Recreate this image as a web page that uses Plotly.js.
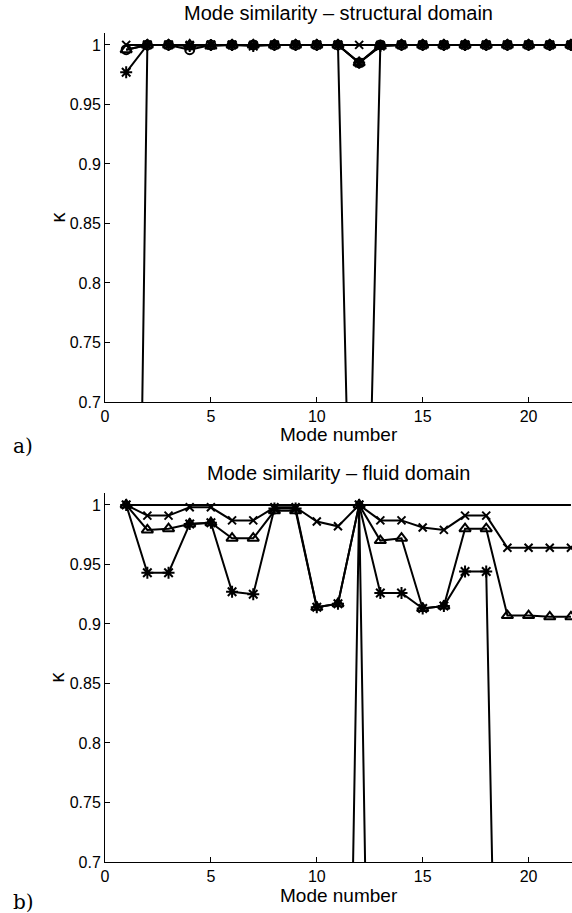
<!DOCTYPE html>
<html>
<head>
<meta charset="utf-8">
<script src="https://cdn.plot.ly/plotly-3.0.1.min.js"></script>
<style>html,body{margin:0;padding:0;background:#fff;} #chart{width:572px;height:913px;}</style>
</head>
<body>
<div id="chart"></div>
<script>
// ---- data ----
var modeNumbers = [1,2,3,4,5,6,7,8,9,10,11,12,13,14,15,16,17,18,19,20,21,22];
var xTickVals = [0,5,10,15,20];
var yTickVals = [0.7,0.75,0.8,0.85,0.9,0.95,1];
var yTickText = ['0.7','0.75','0.8','0.85','0.9','0.95','1'];

// structural domain
var structDip    = [-0.25,1,1,1,1,1,1,1,1,1,1,0.25,1,1,1,1,1,1,1,1,1,1];
var structCross  = [1,1,1,1,1,1,1,1,1,1,1,1,1,1,1,1,1,1,1,1,1,1];
var structCircle = [0.996,1,1,0.996,1,1,1,1,1,1,1,0.985,1,1,1,1,1,1,1,1,1,1];
var structTri    = [0.996,1,1,1,0.999,1,1,1,1,1,1,0.985,0.999,1,1,1,1,1,1,1,1,1];
var structStar   = [0.977,1,1,0.999,1,1,0.999,1,1,1,1,0.985,0.999,1,1,1,1,1,1,1,1,1];

// fluid domain
var fluidRef   = [1,1,1,1,1,1,1,1,1,1,1,1,1,1,1,1,1,1,1,1,1,1];
var fluidDip   = [-0.05,-0.05,-0.05,-0.05,-0.05,-0.05,-0.05,-0.05,-0.05,-0.05,-0.05,1,-0.07,-0.07,-0.07,-0.07,-0.07,-0.07,-0.07,-0.07,-0.07,-0.07];
var fluidCross = [1,0.991,0.991,0.998,0.998,0.987,0.987,0.998,0.998,0.986,0.982,1,0.987,0.987,0.981,0.979,0.991,0.991,0.964,0.964,0.964,0.964];
var fluidTri   = [1,0.979,0.980,0.984,0.985,0.972,0.972,0.995,0.995,0.914,0.917,1,0.970,0.972,0.913,0.915,0.980,0.980,0.907,0.907,0.906,0.906];
var fluidStar  = [1,0.943,0.943,0.984,0.985,0.927,0.925,0.997,0.997,0.914,0.917,1,0.926,0.926,0.913,0.915,0.944,0.944,0.07,0.07,0.07,0.07];

var titles = ['Mode similarity \u2013 structural domain','Mode similarity \u2013 fluid domain'];
var xTitle = 'Mode number';
var yTitle = '\u03ba';
var panelLabels = ['a)','b)'];

// ---- styling ----
var LW = 2;
function line(y, xa, ya, sym, size){
  var t = {x: modeNumbers, y: y, xaxis: xa, yaxis: ya, type: 'scatter',
    line: {color: '#000', width: LW}, showlegend: false, hoverinfo: 'skip'};
  if (sym) {
    t.mode = 'lines+markers';
    t.marker = {symbol: sym, size: size || 8, color: '#000', line: {color: '#000', width: 2}};
  } else {
    t.mode = 'lines';
  }
  return t;
}
var traces = [
  line(structDip,'x','y',null),
  line(structCross,'x','y','x-thin-open',8),
  line(structCircle,'x','y','circle-open',9),
  line(structTri,'x','y','triangle-up-open',10),
  line(structStar,'x','y','asterisk-open',10),
  line(fluidRef,'x2','y2',null),
  line(fluidDip,'x2','y2',null),
  line(fluidCross,'x2','y2','x-thin-open',8),
  line(fluidTri,'x2','y2','triangle-up-open',10),
  line(fluidStar,'x2','y2','asterisk-open',10)
];

var W = 572, H = 913;
var plotL = 105, plotR = 572;
var top1 = 33, bot1 = 402, top2 = 493, bot2 = 862;
function py(p){ return (H - p) / H; }

var font = {family: 'Liberation Sans, Arial, sans-serif', color: '#000'};
function xax(dom, anchor){
  return {domain: dom, anchor: anchor, range: [0, 22.05], tickvals: xTickVals,
    ticks: 'inside', ticklen: 5, tickwidth: 1, tickcolor: '#000',
    showline: true, linecolor: '#000', linewidth: 1, showgrid: false, zeroline: false,
    tickfont: {family: font.family, size: 16, color: '#000'}, automargin: false, fixedrange: true};
}
function yax(dom, anchor){
  return {domain: dom, anchor: anchor, range: [0.7, 1.01], tickvals: yTickVals, ticktext: yTickText,
    ticks: 'inside', ticklen: 5, tickwidth: 1, tickcolor: '#000',
    showline: true, linecolor: '#000', linewidth: 1, showgrid: false, zeroline: false,
    tickfont: {family: font.family, size: 16, color: '#000'}, automargin: false, fixedrange: true};
}
var xdom = [plotL / W, plotR / W];
var cx = (plotL + plotR) / 2 / W;
function ann(text, x, y, size, fam, angle){
  return {text: text, x: x, y: y, xref: 'paper', yref: 'paper', showarrow: false,
    xanchor: 'center', yanchor: 'middle', textangle: angle || 0,
    font: {family: fam || font.family, size: size, color: '#000'}};
}
var layout = {
  width: W, height: H, margin: {l: 0, r: 0, t: 0, b: 0},
  paper_bgcolor: '#fff', plot_bgcolor: '#fff', showlegend: false,
  xaxis: xax(xdom, 'y'), yaxis: yax([py(bot1), py(top1)], 'x'),
  xaxis2: xax(xdom, 'y2'), yaxis2: yax([py(bot2), py(top2)], 'x2'),
  annotations: [
    ann(titles[0], cx, py(13), 20),
    ann(titles[1], cx, py(473), 20),
    ann(xTitle, cx, py(434), 19),
    ann(xTitle, cx, py(895), 19),
    ann(yTitle, 57/W, py((top1+bot1)/2), 20, null, -90),
    ann(yTitle, 57/W, py((top2+bot2)/2), 20, null, -90),
    ann(panelLabels[0], 23/W, py(446), 20, 'DejaVu Serif, Liberation Serif, serif'),
    ann(panelLabels[1], 23/W, py(902), 20, 'DejaVu Serif, Liberation Serif, serif')
  ]
};
Plotly.newPlot('chart', traces, layout, {staticPlot: true, displayModeBar: false});
</script>
</body>
</html>
